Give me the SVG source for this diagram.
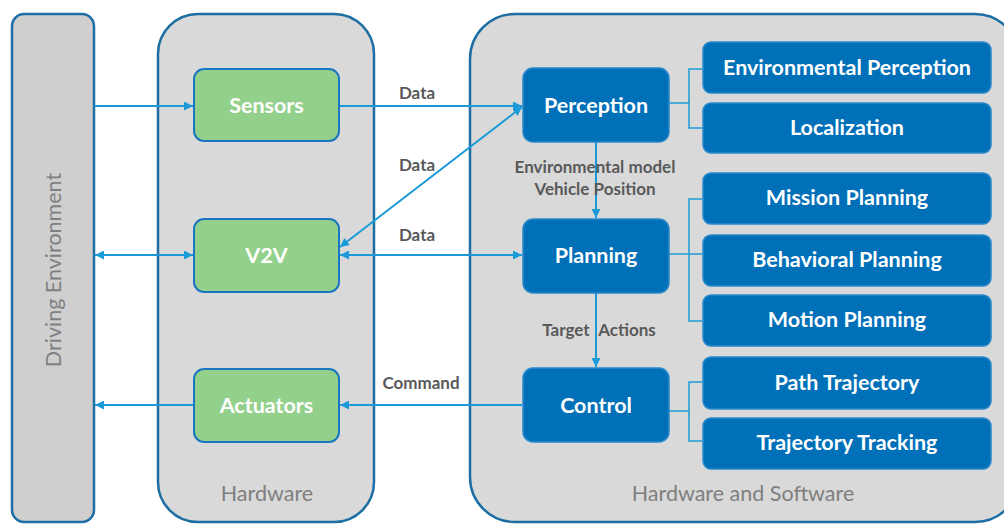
<svg xmlns="http://www.w3.org/2000/svg" width="1004" height="524" viewBox="0 0 1004 524">
<defs>
<style>
.group{fill:#d9d9d9;stroke:#1d6fa3;stroke-width:2.5}
.env{fill:#cfcfcf;stroke:#1d6fa3;stroke-width:2.5}
.green{fill:#93d08b;stroke:#1a76c0;stroke-width:2}
.blue{fill:#0070b9;stroke:#2a88cc;stroke-width:1.5}
.nl{font-family:Lato,"Liberation Sans",sans-serif;font-weight:bold;font-size:21.5px;fill:#ffffff;text-anchor:middle}
.gl{font-family:Lato,"Liberation Sans",sans-serif;font-size:21.5px;fill:#7f7f7f;text-anchor:middle}
.el{font-family:Lato,"Liberation Sans",sans-serif;font-weight:bold;font-size:17px;fill:#595959;text-anchor:middle}
.c{fill:none;stroke:#1b9ad8;stroke-width:2}
.b{fill:none;stroke:#1b9ad8;stroke-width:1.5}
</style>
<marker id="ah" viewBox="0 0 10 10" refX="10" refY="5" markerWidth="9" markerHeight="9" markerUnits="userSpaceOnUse" orient="auto-start-reverse">
<path d="M0,0 L10,5 L0,10 z" fill="#1b9ad8"/>
</marker>
</defs>

<g id="driving-environment">
<rect class="env" x="12" y="14" width="82" height="508" rx="12"/>
<text class="gl" transform="translate(61,270) rotate(-90)">Driving Environment</text>
</g>

<g id="hardware">
<rect class="group" x="158" y="14" width="216" height="508" rx="40"/>
<text class="gl" x="267" y="501">Hardware</text>
</g>

<g id="hardware-software">
<rect class="group" x="470" y="14" width="550" height="508" rx="45"/>
<text class="gl" x="743" y="501">Hardware and Software</text>
</g>

<g id="connectors">
<line class="c" x1="94" y1="106" x2="193" y2="106" marker-end="url(#ah)"/>
<line class="c" x1="339" y1="106" x2="522" y2="106" marker-end="url(#ah)"/>
<line class="c" x1="340" y1="247" x2="522" y2="107" marker-start="url(#ah)" marker-end="url(#ah)"/>
<line class="c" x1="95" y1="255" x2="193" y2="255" marker-start="url(#ah)" marker-end="url(#ah)"/>
<line class="c" x1="340" y1="255" x2="522" y2="255" marker-start="url(#ah)" marker-end="url(#ah)"/>
<line class="c" x1="522" y1="405" x2="340" y2="405" marker-end="url(#ah)"/>
<line class="c" x1="194" y1="405" x2="95" y2="405" marker-end="url(#ah)"/>
<line class="c" x1="596" y1="142" x2="596" y2="218" marker-end="url(#ah)"/>
<line class="c" x1="596" y1="293" x2="596" y2="367" marker-end="url(#ah)"/>
<polyline class="b" points="669,103 689,103"/>
<polyline class="b" points="702,69 689,69 689,128 702,128"/>
<polyline class="b" points="669,254 702,254"/>
<polyline class="b" points="702,199 689,199 689,321 702,321"/>
<polyline class="b" points="669,411 689,411"/>
<polyline class="b" points="702,382 689,382 689,441 702,441"/>
<text class="el" x="417" y="99">Data</text>
<text class="el" x="417" y="171">Data</text>
<text class="el" x="417" y="241">Data</text>
<text class="el" x="421" y="389">Command</text>
<text class="el" x="595" y="173">Environmental model</text>
<text class="el" x="595" y="195">Vehicle Position</text>
<text class="el" x="599" y="336" word-spacing="5">Target Actions</text>
</g>

<g id="sensors">
<rect class="green" x="194" y="69" width="145" height="72" rx="10"/>
<text class="nl" x="266.5" y="113">Sensors</text>
</g>
<g id="v2v">
<rect class="green" x="194" y="219" width="145" height="73" rx="10"/>
<text class="nl" x="266.5" y="263">V2V</text>
</g>
<g id="actuators">
<rect class="green" x="194" y="369" width="145" height="73" rx="10"/>
<text class="nl" x="266.5" y="413">Actuators</text>
</g>

<g id="perception">
<rect class="blue" x="523" y="68" width="146" height="74" rx="10"/>
<text class="nl" x="596" y="113">Perception</text>
</g>
<g id="planning">
<rect class="blue" x="523" y="219" width="146" height="74" rx="10"/>
<text class="nl" x="596" y="263">Planning</text>
</g>
<g id="control">
<rect class="blue" x="523" y="368" width="146" height="74" rx="10"/>
<text class="nl" x="596" y="413">Control</text>
</g>

<g id="environmental-perception">
<rect class="blue" x="703" y="42" width="288" height="51" rx="8"/>
<text class="nl" x="847" y="75">Environmental Perception</text>
</g>
<g id="localization">
<rect class="blue" x="703" y="103" width="288" height="50" rx="8"/>
<text class="nl" x="847" y="135">Localization</text>
</g>
<g id="mission-planning">
<rect class="blue" x="703" y="173" width="288" height="51" rx="8"/>
<text class="nl" x="847" y="205">Mission Planning</text>
</g>
<g id="behavioral-planning">
<rect class="blue" x="703" y="235" width="288" height="51" rx="8"/>
<text class="nl" x="847" y="267">Behavioral Planning</text>
</g>
<g id="motion-planning">
<rect class="blue" x="703" y="295" width="288" height="51" rx="8"/>
<text class="nl" x="847" y="327">Motion Planning</text>
</g>
<g id="path-trajectory">
<rect class="blue" x="703" y="357" width="288" height="52" rx="8"/>
<text class="nl" x="847" y="390">Path Trajectory</text>
</g>
<g id="trajectory-tracking">
<rect class="blue" x="703" y="418" width="288" height="51" rx="8"/>
<text class="nl" x="847" y="450">Trajectory Tracking</text>
</g>
</svg>
